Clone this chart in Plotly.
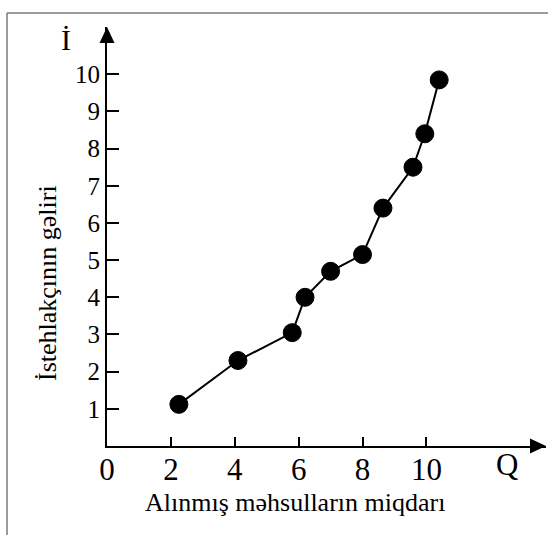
import plotly.graph_objects as go

# Data
quantity = [2.25, 4.1, 5.8, 6.2, 7.0, 8.0, 8.64, 9.58, 9.95, 10.4]
income = [1.12, 2.3, 3.05, 4.0, 4.7, 5.15, 6.4, 7.5, 8.4, 9.85]
x_ticks = [0, 2, 4, 6, 8, 10]
y_ticks = [1, 2, 3, 4, 5, 6, 7, 8, 9, 10]
x_title = "Alınmış məhsulların miqdarı"
y_title = "İstehlakçının gəliri"
x_sym = "Q"
y_sym = "İ"

W, H = 548, 535
ML, MR, MT, MB = 107, 2, 27, 89
PW, PH = W - ML - MR, H - MT - MB
XMAX = PW / 31.94
YMAX = PH / 37.17
FONT = "Liberation Serif, Times New Roman, serif"


def px(x):
    return (x - ML) / PW


def py(y):
    return (H - MB - y) / PH


fig = go.Figure()
fig.add_trace(go.Scatter(
    x=quantity, y=income, mode="lines+markers",
    line=dict(color="black", width=2),
    marker=dict(size=18, color="black", line=dict(color="black", width=1)),
    cliponaxis=False, showlegend=False, hoverinfo="x+y",
))

ah = 7.5  # arrow half width (px)
al = 16   # arrow length (px)
shapes = [
    dict(type="line", xref="paper", yref="paper", x0=px(7), x1=px(548), y0=py(13), y1=py(13),
         line=dict(color="#7a7a7a", width=1.5)),
    dict(type="line", xref="paper", yref="paper", x0=px(7), x1=px(7), y0=py(13), y1=py(535),
         line=dict(color="#7a7a7a", width=1.5)),
    dict(type="path", xref="paper", yref="paper",
         path=f"M {1} {0} L {1 - al / PW} {ah / PH} L {1 - al / PW} {-ah / PH} Z",
         fillcolor="black", line=dict(color="black", width=0)),
    dict(type="path", xref="paper", yref="paper",
         path=f"M {0} {1} L {ah / PW} {1 - al / PH} L {-ah / PW} {1 - al / PH} Z",
         fillcolor="black", line=dict(color="black", width=0)),
]

annotations = [
    dict(text=y_sym, xref="paper", yref="paper", x=px(66), y=py(40), showarrow=False,
         xanchor="center", yanchor="middle", font=dict(family=FONT, size=30, color="black")),
    dict(text=x_sym, xref="paper", yref="paper", x=px(507), y=py(464), showarrow=False,
         xanchor="center", yanchor="middle", font=dict(family=FONT, size=31, color="black")),
    dict(text=x_title, xref="paper", yref="paper", x=px(295), y=py(502), showarrow=False,
         xanchor="center", yanchor="middle", font=dict(family=FONT, size=26, color="black")),
    dict(text=y_title, xref="paper", yref="paper", x=px(47), y=py(283), showarrow=False,
         textangle=-90, xanchor="center", yanchor="middle",
         font=dict(family=FONT, size=26, color="black")),
]

fig.update_layout(
    width=W, height=H,
    margin=dict(l=ML, r=MR, t=MT, b=MB, pad=0),
    paper_bgcolor="white", plot_bgcolor="white",
    font=dict(family=FONT, color="black"),
    shapes=shapes, annotations=annotations,
    xaxis=dict(range=[0, XMAX], tickvals=x_ticks, ticktext=[str(v) for v in x_ticks],
               ticks="inside", ticklen=9, tickwidth=2, tickcolor="black",
               showline=True, linecolor="black", linewidth=2, showgrid=False, zeroline=False,
               ticklabelstandoff=-5,
               tickfont=dict(family=FONT, size=31, color="black"), fixedrange=True),
    yaxis=dict(range=[0, YMAX], tickvals=y_ticks, ticktext=[str(v) for v in y_ticks],
               ticks="inside", ticklen=12, tickwidth=2, tickcolor="black",
               showline=True, linecolor="black", linewidth=2, showgrid=False, zeroline=False,
               tickfont=dict(family=FONT, size=25, color="black"), fixedrange=True),
)

fig.write_html("out.html", config={"displayModeBar": False},
               post_script="document.body.style.margin='0';")
